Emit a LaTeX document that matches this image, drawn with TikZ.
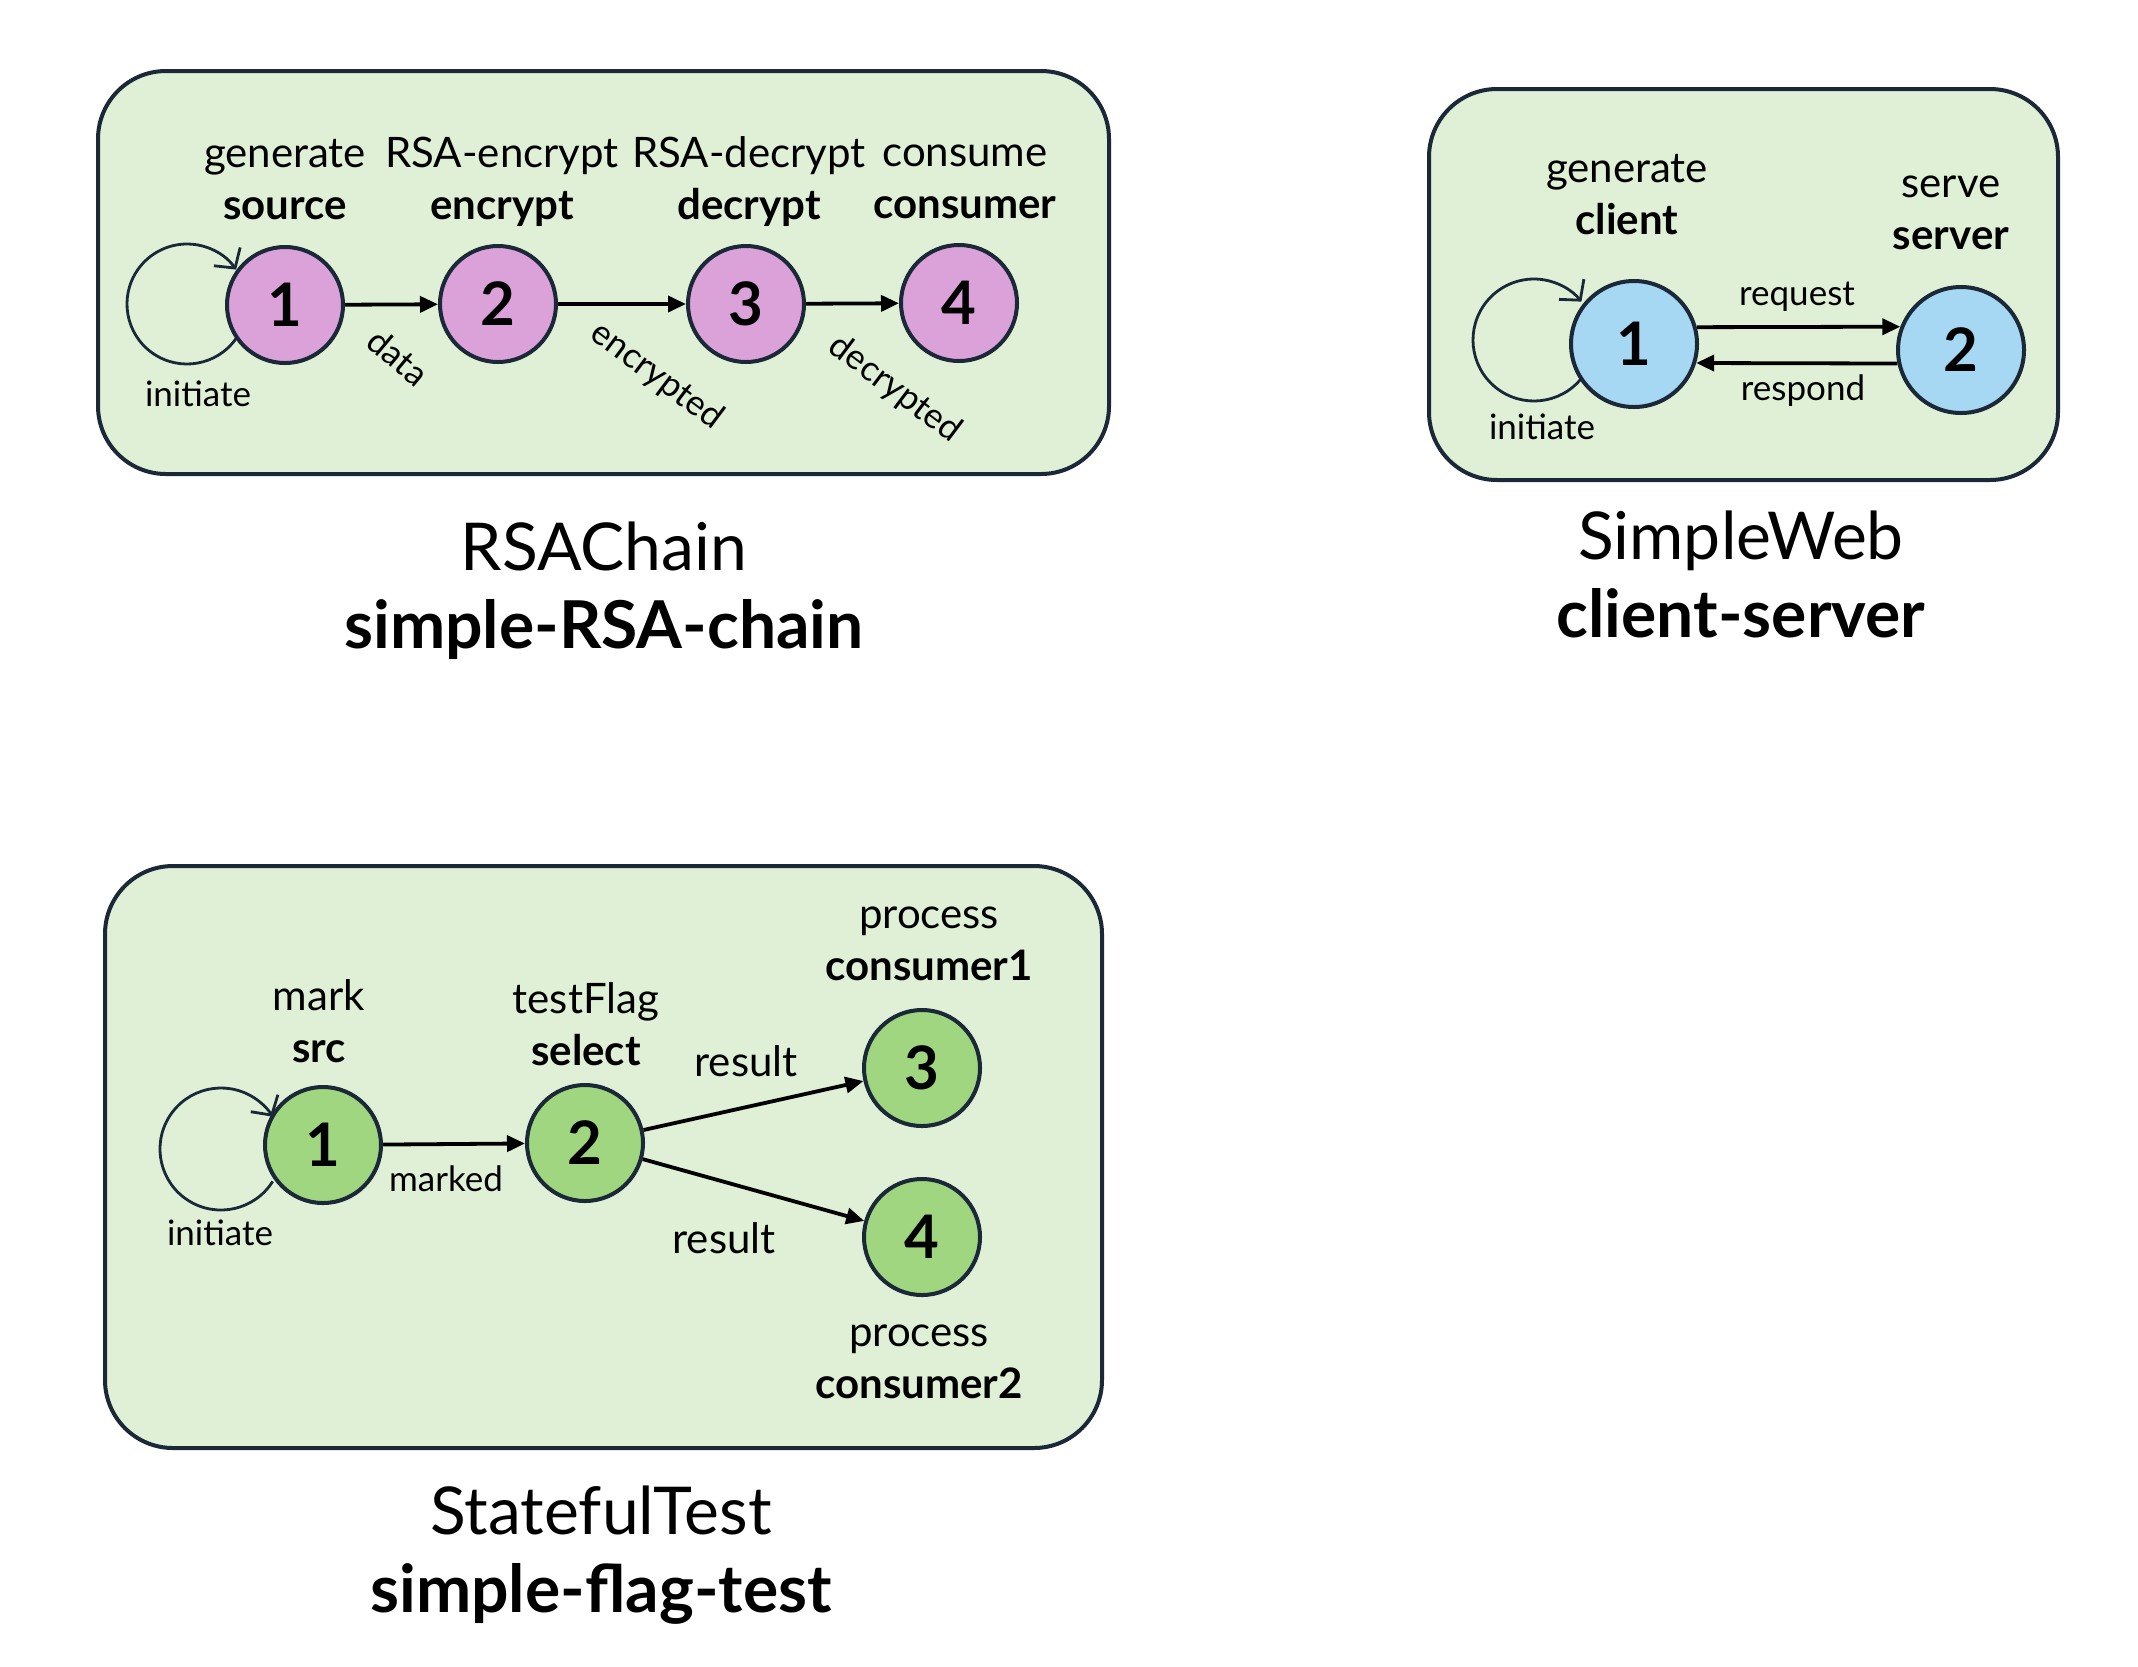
\documentclass[tikz,border=0pt]{standalone}
\usepackage{fontspec}
\setmainfont{Lato}
\usetikzlibrary{arrows.meta,calc}
\definecolor{boxfill}{RGB}{223,240,214}
\definecolor{boxline}{RGB}{26,40,56}
\definecolor{pinkn}{RGB}{219,162,218}
\definecolor{bluen}{RGB}{166,216,243}
\definecolor{greenn}{RGB}{160,214,128}
\begin{document}
\begin{tikzpicture}[x=1pt,y=1pt,
 panel/.style={draw=boxline, line width=4pt, fill=boxfill, rounded corners=68pt, rectangle, inner sep=0pt},
 state/.style={circle, draw=boxline, line width=4pt, minimum size=116pt, inner sep=0pt, font=\fontsize{60}{60}\selectfont\bfseries},
 bigstate/.style={state, minimum size=126pt},
 lbl/.style={align=center, font=\fontsize{42}{52}\selectfont, inner sep=0pt},
 small/.style={font=\fontsize{35}{40}\selectfont, inner sep=0pt},
 title/.style={align=center, font=\fontsize{66}{78}\selectfont, inner sep=0pt},
 edge/.style={line width=3.8pt, -{Triangle[length=18pt,width=16pt]}},
 loopst/.style={draw=boxline, line width=2.8pt, -{Straight Barb[length=14pt,width=32pt]}},
]
\fill[white] (0,0) rectangle (2138,-1666);
\useasboundingbox (0,0) rectangle (2138,-1666);

% ---------- Panel 1: RSAChain ----------
\node[panel, minimum width=1011pt, minimum height=403pt] (p1) at (603.5,-272.5) {};
\node[state, fill=pinkn] (a1) at (285,-305) {1};
\node[state, fill=pinkn] (a2) at (498,-304) {2};
\node[state, fill=pinkn] (a3) at (746,-304) {3};
\node[state, fill=pinkn] (a4) at (959,-303) {4};
\draw[loopst] ($(a1)+(-98,1)+(-35:60)$) arc[start angle=-35, end angle=-325, radius=60];
\draw[edge] (a1) -- (a2);
\draw[edge] (a2) -- (a3);
\draw[edge] (a3) -- (a4);
\node[lbl] (la1) at (285,-180) {generate\\\textbf{source}};
\node[lbl] (la2) at (502,-182) {RSA-encrypt\\\textbf{encrypt}};
\node[lbl] (la3) at (749,-182) {RSA-decrypt\\\textbf{decrypt}};
\node[lbl] (la4) at (965,-182) {consume\\\textbf{consumer}};
\node[small] (ia) at (198,-394) {initiate};
\node[small, rotate=-40] (ea1) at (398,-357) {data};
\node[small, rotate=-37] (ea2) at (657,-376) {encrypted};
\node[small, rotate=-37] (ea3) at (895,-389) {decrypted};
\node[title] (t1) at (604,-591) {RSAChain\\\textbf{simple-RSA-chain}};

% ---------- Panel 2: SimpleWeb ----------
\node[panel, minimum width=629pt, minimum height=391pt] (p2) at (1743.5,-284.5) {};
\node[bigstate, fill=bluen] (b1) at (1634,-344) {1};
\node[bigstate, fill=bluen] (b2) at (1961,-350) {2};
\draw[loopst] ($(b1)+(-100,4)+(-39:61)$) arc[start angle=-39, end angle=-321, radius=61];
\draw[edge] (b1.15) -- (b2.159);
\draw[edge] (b2.192) -- (b1.-17);
\node[lbl] (lb1) at (1627,-194.5) {generate\\\textbf{client}};
\node[lbl] (lb2) at (1951,-213) {serve\\\textbf{server}};
\node[small] (ib) at (1542,-427) {initiate};
\node[small] (eb1) at (1797,-297) {request};
\node[small] (eb2) at (1803,-391) {respond};
\node[title] (t2) at (1741,-574.5) {SimpleWeb\\\textbf{client-server}};

% ---------- Panel 3: StatefulTest ----------
\node[panel, minimum width=997pt, minimum height=582pt] (p3) at (603.5,-1157) {};
\node[state, fill=greenn] (c1) at (323,-1145) {1};
\node[state, fill=greenn] (c2) at (585,-1143) {2};
\node[state, fill=greenn] (c3) at (922,-1068) {3};
\node[state, fill=greenn] (c4) at (922,-1237) {4};
\draw[loopst] ($(c1)+(-102,-4)+(-32:61)$) arc[start angle=-32, end angle=-328, radius=61];
\draw[edge] (c1) -- (c2);
\draw[edge] (c2) -- (c3);
\draw[edge] (c2) -- (c4);
\node[lbl] (lc1) at (319,-1021) {mark\\\textbf{src}};
\node[lbl] (lc2) at (586,-1024) {testFlag\\\textbf{select}};
\node[lbl] (lc3) at (929,-944) {process\\\textbf{consumer1}};
\node[lbl] (lc4) at (919,-1362) {process\\\textbf{consumer2}};
\node[small] (ic) at (220,-1233) {initiate};
\node[small] (ec1) at (446,-1179) {marked};
\node[lbl] (ec2) at (746,-1061) {result};
\node[lbl] (ec3) at (724,-1238) {result};
\node[title] (t3) at (601,-1555) {StatefulTest\\\textbf{simple-flag-test}};
\end{tikzpicture}
\end{document}
